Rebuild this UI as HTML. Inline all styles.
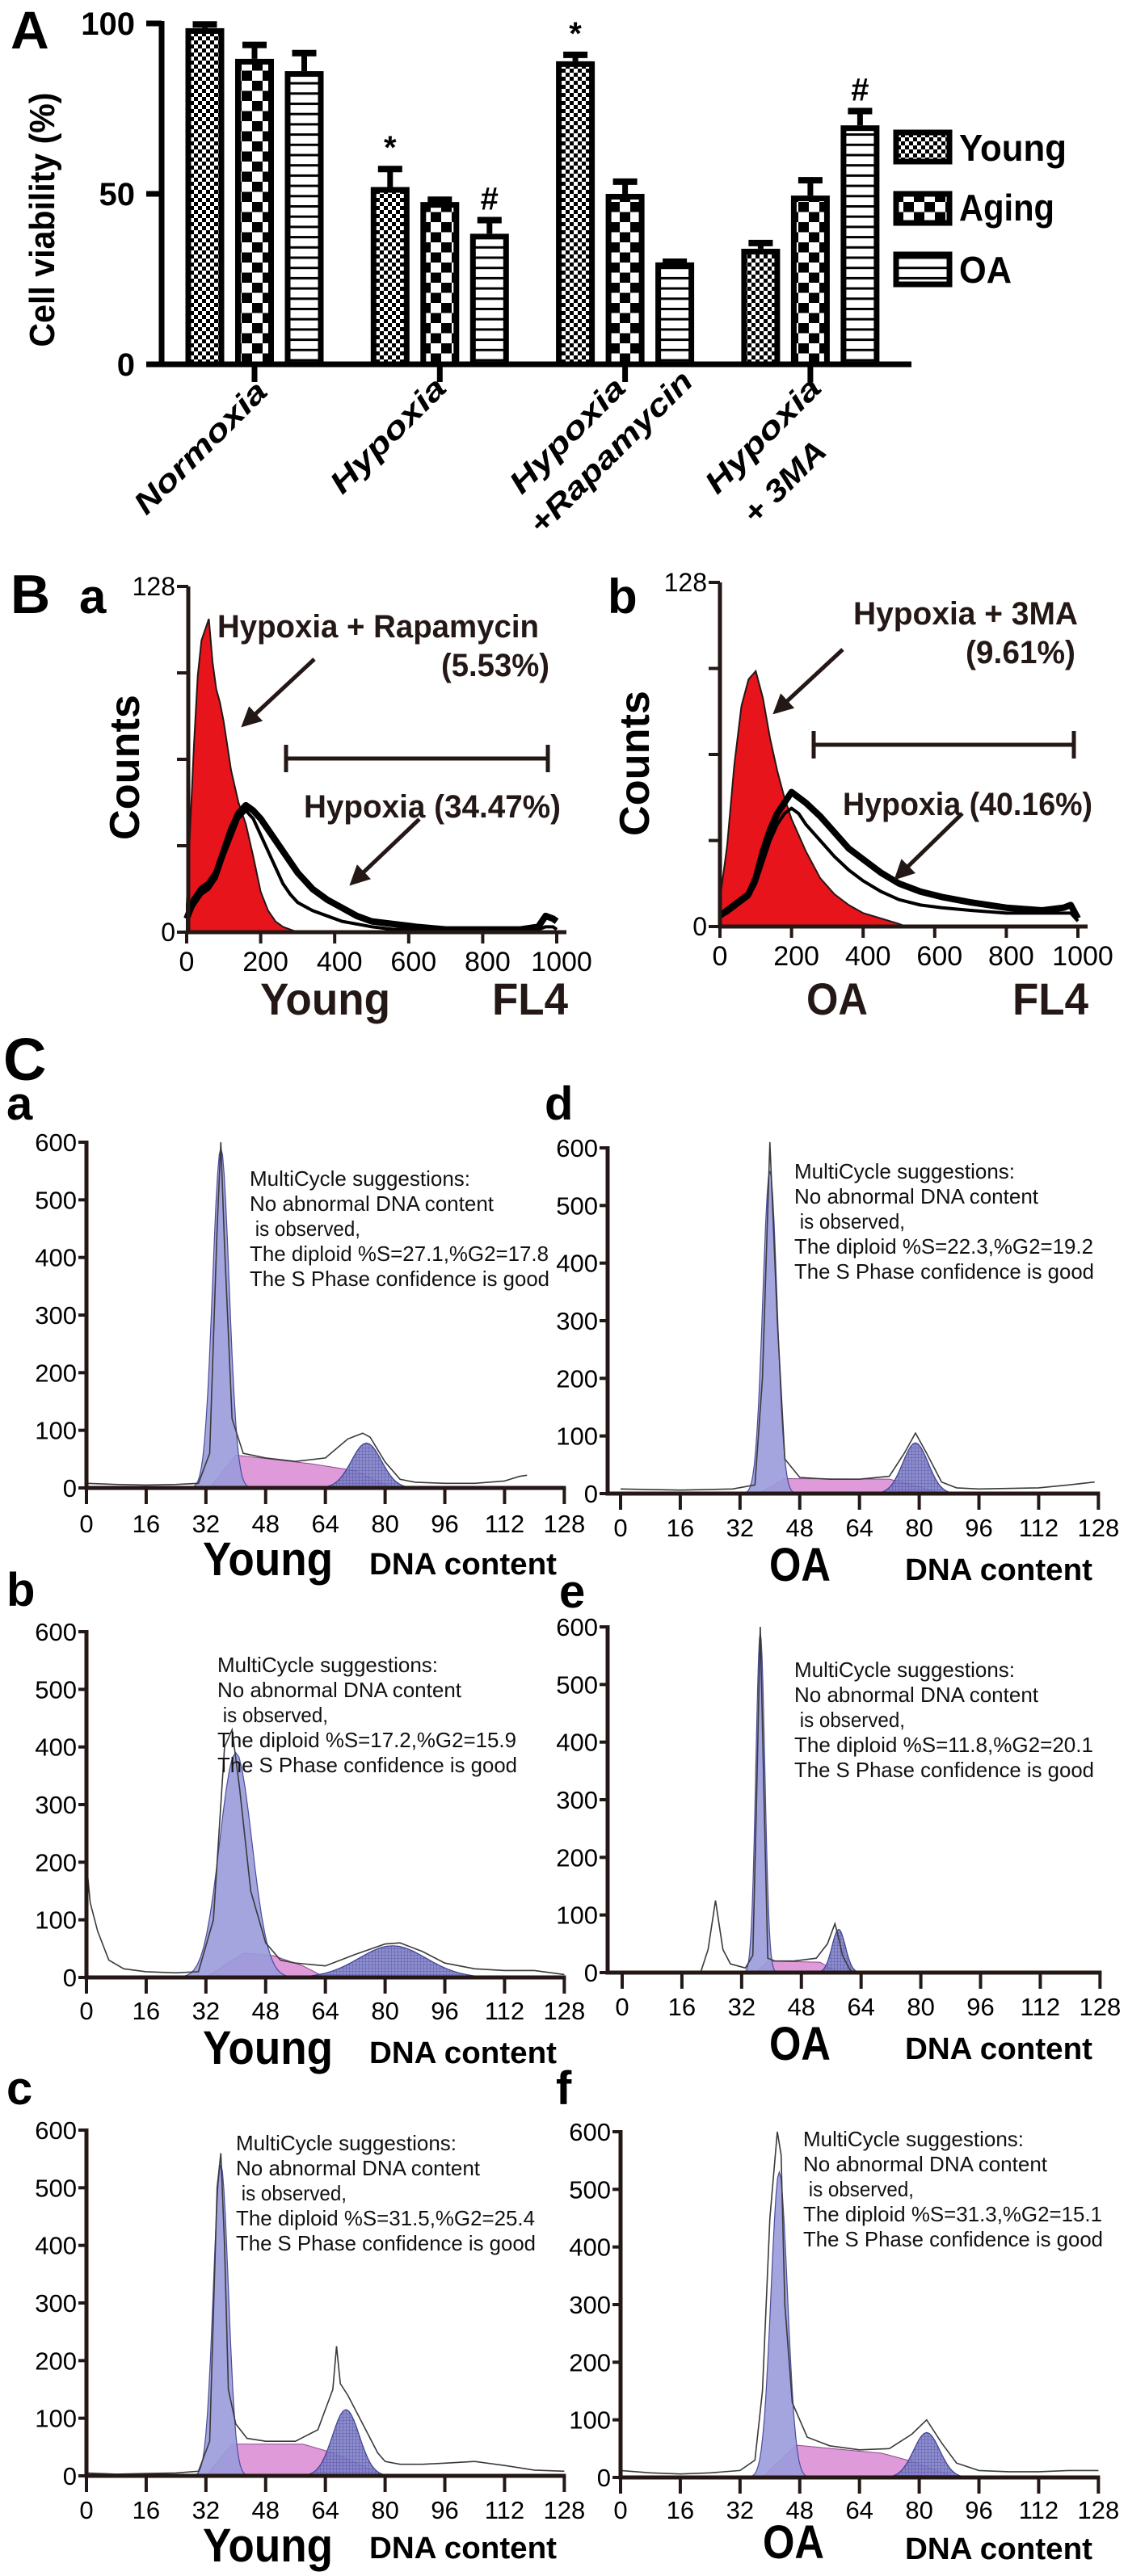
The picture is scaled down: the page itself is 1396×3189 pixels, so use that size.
<!DOCTYPE html>
<html><head><meta charset="utf-8"><title>Cell viability and flow cytometry figure</title>
<style>
html,body{margin:0;padding:0;background:#fff;}
svg{display:block;}
.n{font-family:"Liberation Sans Narrow","Liberation Sans",Arial,sans-serif;}
.b{font-weight:bold;}
.pre{white-space:pre;}
</style></head>
<body>
<svg id="fig" xmlns="http://www.w3.org/2000/svg" width="1396" height="3189" viewBox="0 0 1396 3189">
<defs>
<pattern id="pYoung" width="10" height="10" patternUnits="userSpaceOnUse"><rect width="10" height="10" fill="#fff"/><rect width="5" height="5" fill="#000"/><rect x="5" y="5" width="5" height="5" fill="#000"/></pattern>
<pattern id="pAging" width="26" height="25" patternUnits="userSpaceOnUse"><rect width="26" height="25" fill="#fff"/><rect width="13" height="12.5" fill="#000"/><rect x="13" y="12.5" width="13" height="12.5" fill="#000"/></pattern>
<pattern id="pOA" width="10" height="12.7" patternUnits="userSpaceOnUse"><rect width="10" height="12.7" fill="#fff"/><rect y="0" width="10" height="3" fill="#000"/></pattern>
<pattern id="pHatch" width="4" height="4" patternUnits="userSpaceOnUse"><rect width="4" height="4" fill="#7f80c9"/><path d="M0 0H4M0 0V4" stroke="#3d3f8e" stroke-width="0.8"/></pattern>
<marker id="arr" viewBox="0 0 10 10" refX="8" refY="5" markerWidth="5" markerHeight="5" orient="auto"><path d="M0 0L10 5L0 10z" fill="#231815"/></marker>
</defs>

<text x="13" y="60" class="b" font-family="Liberation Sans,Arial,sans-serif" font-size="66">A</text>
<text transform="translate(67,272) rotate(-90)" text-anchor="middle" class="b" font-family="Liberation Sans,Arial,sans-serif" font-size="44" textLength="315" lengthAdjust="spacingAndGlyphs">Cell viability (%)</text>
<g id="aAxis"></g>
<g id="aLegend">
 <rect x="1109" y="164" width="66" height="36" fill="url(#pYoung)" stroke="#000" stroke-width="7"/>
 <text x="1187" y="199" class="n b" font-size="46" textLength="133" lengthAdjust="spacingAndGlyphs">Young</text>
 <rect x="1109" y="240" width="66" height="36" fill="url(#pAging)" stroke="#000" stroke-width="7"/>
 <text x="1187" y="273" class="n b" font-size="46" textLength="118" lengthAdjust="spacingAndGlyphs">Aging</text>
 <rect x="1109" y="315" width="66" height="37" fill="url(#pOA)" stroke="#000" stroke-width="7"/>
 <text x="1187" y="350" class="n b" font-size="46" textLength="65" lengthAdjust="spacingAndGlyphs">OA</text>
</g>
<g font-family="Liberation Sans,Arial,sans-serif" font-weight="bold" font-style="italic" font-size="38" text-anchor="middle">
 <text transform="translate(257,563) rotate(-45)" textLength="215" lengthAdjust="spacingAndGlyphs">Normoxia</text>
 <text transform="translate(489,548) rotate(-45)" textLength="185" lengthAdjust="spacingAndGlyphs">Hypoxia</text>
 <text transform="translate(711,548) rotate(-45)" textLength="185" lengthAdjust="spacingAndGlyphs">Hypoxia</text>
 <text transform="translate(765,569) rotate(-45)" textLength="268" lengthAdjust="spacingAndGlyphs">+Rapamycin</text>
 <text transform="translate(953,548) rotate(-45)" textLength="185" lengthAdjust="spacingAndGlyphs">Hypoxia</text>
 <text transform="translate(980,606) rotate(-45)" textLength="128" lengthAdjust="spacingAndGlyphs">+ 3MA</text>
</g>

<text x="13" y="759" class="b" font-family="Liberation Sans,Arial,sans-serif" font-size="68">B</text>
<text x="98" y="759" class="b" font-family="Liberation Sans,Arial,sans-serif" font-size="60">a</text>
<text x="752" y="759" class="b" font-family="Liberation Sans,Arial,sans-serif" font-size="60">b</text>
<text transform="translate(172,950) rotate(-90)" text-anchor="middle" class="b" font-family="Liberation Sans,Arial,sans-serif" font-size="52" textLength="180" lengthAdjust="spacingAndGlyphs">Counts</text>
<text transform="translate(803,945) rotate(-90)" text-anchor="middle" class="b" font-family="Liberation Sans,Arial,sans-serif" font-size="52" textLength="180" lengthAdjust="spacingAndGlyphs">Counts</text>
<g id="bA"></g>
<g id="bB"></g>
<g class="n b" font-size="40" fill="#231815">
 <text x="269" y="789" textLength="398" lengthAdjust="spacingAndGlyphs">Hypoxia + Rapamycin</text>
 <text x="546" y="837" textLength="134" lengthAdjust="spacingAndGlyphs">(5.53%)</text>
 <text x="376" y="1012" textLength="318" lengthAdjust="spacingAndGlyphs">Hypoxia (34.47%)</text>
 <text x="1056" y="773" textLength="278" lengthAdjust="spacingAndGlyphs">Hypoxia + 3MA</text>
 <text x="1195" y="821" textLength="136" lengthAdjust="spacingAndGlyphs">(9.61%)</text>
 <text x="1043" y="1009" textLength="309" lengthAdjust="spacingAndGlyphs">Hypoxia (40.16%)</text>
 <text x="322" y="1256" font-size="56" textLength="161" lengthAdjust="spacingAndGlyphs">Young</text>
 <text x="609" y="1256" font-size="56" textLength="94" lengthAdjust="spacingAndGlyphs">FL4</text>
 <text x="998" y="1256" font-size="56" textLength="76" lengthAdjust="spacingAndGlyphs">OA</text>
 <text x="1253" y="1256" font-size="56" textLength="94" lengthAdjust="spacingAndGlyphs">FL4</text>
</g>
<g stroke="#231815" stroke-width="5" fill="none">
 <line x1="389" y1="816" x2="302" y2="897" marker-end="url(#arr)"/>
 <line x1="519" y1="1014" x2="436" y2="1093" marker-end="url(#arr)"/>
 <line x1="1043" y1="804" x2="960" y2="881" marker-end="url(#arr)"/>
 <line x1="1191" y1="1007" x2="1110" y2="1086" marker-end="url(#arr)"/>
 <path d="M354 939H678M354 922V956M678 922V956"/>
 <path d="M1007 922H1329M1007 905V939M1329 905V939"/>
</g>

<text x="4" y="1337" class="b" font-family="Liberation Sans,Arial,sans-serif" font-size="74">C</text>
<g class="b" font-family="Liberation Sans,Arial,sans-serif" font-size="58">
 <text x="8" y="1386">a</text>
 <text x="674" y="1386">d</text>
 <text x="8" y="1988">b</text>
 <text x="692" y="1990">e</text>
 <text x="8" y="2605">c</text>
 <text x="688" y="2605">f</text>
</g>
<g id="cPlots"></g>

<script>
const aCategories = ['Normoxia','Hypoxia','Hypoxia+Rapamycin','Hypoxia+3MA'];
const aSeries = ['Young','Aging','OA'];
const aYoung = [98.6, 52, 88.9, 33.9];
const aAging = [89.6, 47.6, 50, 49.5];
const aOA = [86, 38.3, 29.9, 70.1];
const aYoungErr = [1.8, 6, 2.6, 2.4];
const aAgingErr = [4.8, 1.4, 4.3, 5.2];
const aOAErr = [6, 4.7, 0.9, 4.9];
const aYTicks = [0, 50, 100];
const aMarks = [['*','Young',1],['#','OA',1],['*','Young',2],['#','OA',3]];

const bYoungRedX = [0,10,20,30,40,50,60,70,80,90,100,120,140,160,180,200,220,240,260,280,300];
const bYoungRedY = [10,40,70,95,108,112,116,100,90,85,78,60,48,40,28,15,8,4,2,1,0];
const bYoungBlkX = [0,20,40,60,80,100,120,140,160,180,200,220,240,260,280,300,340,380,420,460,500,560,620,700,800,900,950,970,990,1000];
const bYoungBlkY = [5,12,16,18,22,30,38,44,47,45,42,38,34,30,26,22,16,12,9,6,4,3,2,1,1,1,2,6,5,4];
const bYoungBlk2Y = [5,10,14,16,20,28,35,42,45,42,36,30,24,18,14,11,8,6,4,3,2,1,1,1,1,1,1,2,2,1];
const bOARedX = [0,20,40,60,80,100,120,140,160,180,200,240,280,320,360,400,450,500,520];
const bOARedY = [10,30,60,82,92,95,85,70,58,48,40,28,18,12,8,5,3,1,0];
const bOABlkX = [0,20,40,60,80,100,120,140,160,180,200,220,240,280,320,360,400,450,500,560,620,700,800,900,960,980,1000];
const bOABlkY = [4,6,8,10,12,18,28,36,42,46,50,48,46,41,35,29,25,20,16,13,11,9,7,6,7,8,3];
const bOABlk2Y = [4,5,7,9,11,16,24,32,38,42,44,42,38,32,26,21,17,13,10,8,7,6,5,5,5,5,2];
const bXTicks = [0,200,400,600,800,1000];
const bYTicks = [0,32,64,96,128];

const cXTicks = [0,16,32,48,64,80,96,112,128];
const cYTicks = [0,100,200,300,400,500,600];
const g1Center = [36, 40, 36, 40, 37, 42.5];
const g1Height = [590, 390, 540, 560, 590, 530];
const g1Width  = [2.2, 4.3, 2.0, 1.9, 1.2, 2.2];
const g2Center = [75, 82, 69.5, 79, 58, 82];
const g2Height = [78, 55, 115, 88, 75, 78];
const g2Width  = [4, 9, 3.6, 3.4, 1.8, 3.5];
const sA_X = [33,40,60,72,82], sA_Y = [0,57,42,30,0];
const sB_X = [32,42,50,58,64], sB_Y = [0,42,38,20,0];
const sC_X = [32,39,58,66,80], sC_Y = [0,55,55,40,0];
const sD_X = [37,44,72,80,86], sD_Y = [0,26,25,12,0];
const sE_X = [36,39,53,58], sE_Y = [0,20,18,0];
const sF_X = [38,47,70,78,90], sF_Y = [0,56,42,28,0];
const dA_X = [0,8,16,24,30,33,35,36,37,39,42,48,56,64,70,74,76,80,84,88,96,104,112,116,118];
const dA_Y = [8,6,5,6,8,60,450,600,420,120,60,52,46,52,85,95,88,45,15,10,8,8,12,20,22];
const dB_X = [0,1,3,6,10,16,24,30,34,37,39,41,44,48,52,56,64,72,80,84,90,96,104,112,120,128];
const dB_Y = [200,130,80,30,15,10,8,10,100,400,430,330,150,60,30,25,20,40,58,60,45,25,15,12,12,5];
const dC_X = [0,8,16,24,30,33,35,36,37,38,40,43,48,56,62,66,67,68,70,74,78,80,84,90,96,104,112,120,128];
const dC_Y = [5,3,4,5,8,60,500,560,400,150,90,65,60,60,80,150,225,160,140,90,40,25,20,20,22,25,18,10,8];
const dD_X = [0,16,30,36,38,40,42,44,48,56,64,72,76,79,82,86,90,96,112,120,127];
const dD_Y = [8,6,8,15,200,610,300,60,28,25,25,30,70,105,70,20,10,8,10,15,20];
const dE_X = [21,23,25,27,29,33,35,36,37,38,39,41,46,52,55,57,58,59,61,62];
const dE_Y = [0,40,125,40,15,8,30,300,600,300,25,20,20,25,50,85,60,30,5,0];
const dF_X = [0,8,16,24,32,36,38,40,42,43,44,46,50,56,64,72,78,82,86,90,96,104,112,120,128];
const dF_Y = [12,8,6,8,12,30,150,450,600,560,300,130,70,55,48,50,75,100,60,25,12,10,10,12,12];
const cTextLines = [
 ['MultiCycle suggestions:','No abnormal DNA content',' is observed,','The diploid %S=27.1,%G2=17.8','The S Phase confidence is good'],
 ['MultiCycle suggestions:','No abnormal DNA content',' is observed,','The diploid %S=17.2,%G2=15.9','The S Phase confidence is good'],
 ['MultiCycle suggestions:','No abnormal DNA content',' is observed,','The diploid %S=31.5,%G2=25.4','The S Phase confidence is good'],
 ['MultiCycle suggestions:','No abnormal DNA content',' is observed,','The diploid %S=22.3,%G2=19.2','The S Phase confidence is good'],
 ['MultiCycle suggestions:','No abnormal DNA content',' is observed,','The diploid %S=11.8,%G2=20.1','The S Phase confidence is good'],
 ['MultiCycle suggestions:','No abnormal DNA content',' is observed,','The diploid %S=31.3,%G2=15.1','The S Phase confidence is good']
];
const cGroupNames = ['Young','Young','Young','OA','OA','OA'];

const NS = 'http://www.w3.org/2000/svg';
function mk(tag, attrs, parent){
  const e = document.createElementNS(NS, tag);
  for (const k in attrs) e.setAttribute(k, attrs[k]);
  parent.appendChild(e);
  return e;
}

(function(){
  const g = document.getElementById('aAxis');
  const y0 = 451, yTop = 29;
  const ay = v => y0 - v * (y0 - yTop) / 100;
  const groupX = i => 315 + i * 229.3;
  const barX = (i, s) => groupX(i) + (s - 1) * 61.5;
  const vals = [aYoung, aAging, aOA];
  const errs = [aYoungErr, aAgingErr, aOAErr];
  const pats = ['url(#pYoung)','url(#pAging)','url(#pOA)'];
  aCategories.forEach((c, i) => {
    vals.forEach((arr, s) => {
      const cx = barX(i, s), top = ay(arr[i]);
      const eb = mk('line', {x1:cx, y1:top, x2:cx, y2:ay(arr[i] + errs[s][i]), stroke:'#000', 'stroke-width':7}, g);
      
      
      const cap = mk('line', {x1:cx - 15, y1:ay(arr[i] + errs[s][i]) + 3, x2:cx + 15, y2:ay(arr[i] + errs[s][i]) + 3, stroke:'#000', 'stroke-width':8}, g);
      
      
      const r = mk('rect', {x:cx - 20.5, y:top + 3.5, width:41, height:Math.max(0, y0 - top - 3.5), fill:pats[s], stroke:'#000', 'stroke-width':7}, g);
      
      
    });
  });
  aMarks.forEach(m => {
    const s = aSeries.indexOf(m[1]);
    const arr = vals[s], err = errs[s];
    const t = mk('text', {x:barX(m[2], s), y:ay(arr[m[2]] + err[m[2]]) - 10, 'text-anchor':'middle', 'font-family':'Liberation Sans,Arial,sans-serif', 'font-weight':'bold', 'font-size':40}, g);
    t.textContent = m[0];
    
    
  });
  const ax = mk('path', {d:'M200 ' + (yTop - 3) + 'V' + y0 + 'H1128', stroke:'#000', 'stroke-width':7, fill:'none'}, g);
  
  
  aYTicks.forEach(v => {
    const tk = mk('line', {x1:181, y1:ay(v), x2:200, y2:ay(v), stroke:'#000', 'stroke-width':7}, g);
    
    
    const tl = mk('text', {x:167, y:ay(v) + 14, 'text-anchor':'end', class:'n b', 'font-size':40}, g);
    tl.textContent = v;
    
    
  });
  aCategories.forEach((c, i) => {
    const tk = mk('line', {x1:groupX(i), y1:y0, x2:groupX(i), y2:y0 + 22, stroke:'#000', 'stroke-width':7}, g);
    
    
  });
})();

function bPlot(gid, L, redX, redY, blkX, blkY, blk2Y){
  const g = document.getElementById(gid);
  const sx = v => L.x0 + v * (L.x1 - L.x0) / 1000;
  const sy = v => L.y0 - v * (L.y0 - L.yT) / 128;
  let d = 'M' + sx(redX[0]) + ' ' + L.y0;
  redX.forEach((x, i) => { d += 'L' + sx(x) + ' ' + sy(redY[i]); });
  d += 'L' + sx(redX[redX.length - 1]) + ' ' + L.y0 + 'Z';
  const red = mk('path', {d:d, fill:'#e8141c', stroke:'#231815', 'stroke-width':2}, g);
  
  
  const p1 = blkX.map((x, i) => sx(x) + ',' + sy(blkY[i])).join(' ');
  const l1 = mk('polyline', {points:p1, fill:'none', stroke:'#000', 'stroke-width':8, 'stroke-linejoin':'round'}, g);
  
  
  const p2 = blkX.map((x, i) => sx(x) + ',' + sy(blk2Y[i])).join(' ');
  const l2 = mk('polyline', {points:p2, fill:'none', stroke:'#000', 'stroke-width':4, 'stroke-linejoin':'round'}, g);
  
  
  const ax = mk('path', {d:'M' + L.ax + ' ' + L.yT + 'V' + L.y0 + 'H' + (L.x1 + 12), stroke:'#231815', 'stroke-width':5, fill:'none'}, g);
  
  
  bYTicks.forEach(v => {
    const tk = mk('line', {x1:L.ax - 14, y1:sy(v), x2:L.ax, y2:sy(v), stroke:'#231815', 'stroke-width':4}, g);
    
    
  });
  [0,128].forEach(v => {
    const tl = mk('text', {x:L.ax - 16, y:sy(v) + 11, 'text-anchor':'end', class:'n', 'font-size':32}, g);
    tl.textContent = v;
    
    
  });
  bXTicks.forEach(v => {
    const tk = mk('line', {x1:sx(v), y1:L.y0, x2:sx(v), y2:L.y0 + 14, stroke:'#231815', 'stroke-width':4}, g);
    
    
    const tl = mk('text', {x:sx(v) + (v === 0 ? 0 : 6), y:L.y0 + 48, 'text-anchor':'middle', class:'n', 'font-size':34}, g);
    tl.textContent = v;
    
    
  });
}
bPlot('bA', {ax:233, x0:231, x1:689, y0:1154, yT:726}, bYoungRedX, bYoungRedY, bYoungBlkX, bYoungBlkY, bYoungBlk2Y);
bPlot('bB', {ax:891, x0:891, x1:1334, y0:1147, yT:721}, bOARedX, bOARedY, bOABlkX, bOABlkY, bOABlk2Y);

const cLayout = [
 {ax:107, x0:107, y0:1842, tx:309, ty:1468, lblY:1897, titleY:1950, dnaY:1949},
 {ax:107, x0:107, y0:2448, tx:269, ty:2070, lblY:2500, titleY:2555, dnaY:2554},
 {ax:107, x0:107, y0:3065, tx:292, ty:2662, lblY:3118, titleY:3171, dnaY:3167},
 {ax:752, x0:768, y0:1849, tx:983, ty:1459, lblY:1902, titleY:1957, dnaY:1956},
 {ax:752, x0:770, y0:2442, tx:983, ty:2076, lblY:2495, titleY:2550, dnaY:2549},
 {ax:768, x0:768, y0:3067, tx:994, ty:2657, lblY:3118, titleY:3167, dnaY:3168}
];
const sXs = [sA_X, sB_X, sC_X, sD_X, sE_X, sF_X];
const sYs = [sA_Y, sB_Y, sC_Y, sD_Y, sE_Y, sF_Y];
const dXs = [dA_X, dB_X, dC_X, dD_X, dE_X, dF_X];
const dYs = [dA_Y, dB_Y, dC_Y, dD_Y, dE_Y, dF_Y];
const cNames = ['a','b','c','d','e','f'];
const lineLens = [273, 302, 137, 370, 371];

function gaussPath(sx, sy, c, h, w, y0){
  let d = 'M' + sx(c - 4 * w) + ' ' + y0;
  for (let t = -4; t <= 4.001; t += 0.2) {
    const x = c + t * w;
    d += 'L' + sx(x).toFixed(1) + ' ' + sy(h * Math.exp(-0.5 * t * t)).toFixed(1);
  }
  return d + 'L' + sx(c + 4 * w) + ' ' + y0 + 'Z';
}

cLayout.forEach((L, p) => {
  const root = document.getElementById('cPlots');
  const g = mk('g', {}, root);
  
  
  const sx = v => L.x0 + v * 4.62;
  const sy = v => L.y0 - v * 0.7133;
  let sd = 'M' + sx(sXs[p][0]) + ' ' + sy(sYs[p][0]);
  sXs[p].forEach((x, i) => { sd += 'L' + sx(x) + ' ' + sy(sYs[p][i]); });
  sd += 'Z';
  const sp = mk('path', {d:sd, fill:'#d98ad2', 'fill-opacity':0.85, stroke:'#8a4a8a', 'stroke-width':1}, g);
  
  
  const g1 = mk('path', {d:gaussPath(sx, sy, g1Center[p], g1Height[p], g1Width[p], L.y0), fill:'#9a9bdc', 'fill-opacity':0.9, stroke:'#4a4c98', 'stroke-width':1.2}, g);
  
  
  const g2 = mk('path', {d:gaussPath(sx, sy, g2Center[p], g2Height[p], g2Width[p], L.y0), fill:'url(#pHatch)', 'fill-opacity':0.9, stroke:'#3d3f8e', 'stroke-width':1.2}, g);
  
  
  const pts = dXs[p].map((x, i) => sx(x).toFixed(1) + ',' + sy(dYs[p][i]).toFixed(1)).join(' ');
  const dl = mk('polyline', {points:pts, fill:'none', stroke:'#3a3a3a', 'stroke-width':1.6}, g);
  
  
  const ax = mk('path', {d:'M' + L.ax + ' ' + (sy(600) - 2) + 'V' + L.y0 + 'H' + (sx(128) + 2), stroke:'#231815', 'stroke-width':5, fill:'none'}, g);
  
  
  cYTicks.forEach(v => {
    const tk = mk('line', {x1:L.ax - 10, y1:sy(v), x2:L.ax, y2:sy(v), stroke:'#231815', 'stroke-width':4}, g);
    
    
    const tl = mk('text', {x:L.ax - 12, y:sy(v) + 11, 'text-anchor':'end', class:'n', 'font-size':31}, g);
    tl.textContent = v;
    
    
  });
  cXTicks.forEach(v => {
    const tk = mk('line', {x1:sx(v), y1:L.y0, x2:sx(v), y2:L.y0 + 20, stroke:'#231815', 'stroke-width':4}, g);
    
    
    const tl = mk('text', {x:sx(v), y:L.lblY, 'text-anchor':'middle', class:'n', 'font-size':31}, g);
    tl.textContent = v;
    
    
  });
  cTextLines[p].forEach((s, i) => {
    const t = mk('text', {x:L.tx, y:L.ty + i * 31, class:'n pre', 'font-size':26, textLength:lineLens[i], lengthAdjust:'spacingAndGlyphs', fill:'#111'}, g);
    t.textContent = s;
    
    
  });
  const isYoung = cGroupNames[p] === 'Young';
  const gt = mk('text', {x: isYoung ? 251 : (p === 5 ? 944 : 952), y:L.titleY, class:'n b', 'font-size':58, textLength: isYoung ? 161 : 76, lengthAdjust:'spacingAndGlyphs'}, g);
  gt.textContent = cGroupNames[p];
  
  
  const dt = mk('text', {x: isYoung ? 457 : 1120, y:L.dnaY, class:'n b', 'font-size':38, textLength:232, lengthAdjust:'spacingAndGlyphs'}, g);
  dt.textContent = 'DNA content';
  
  
});
</script>
</svg>
</body></html>
